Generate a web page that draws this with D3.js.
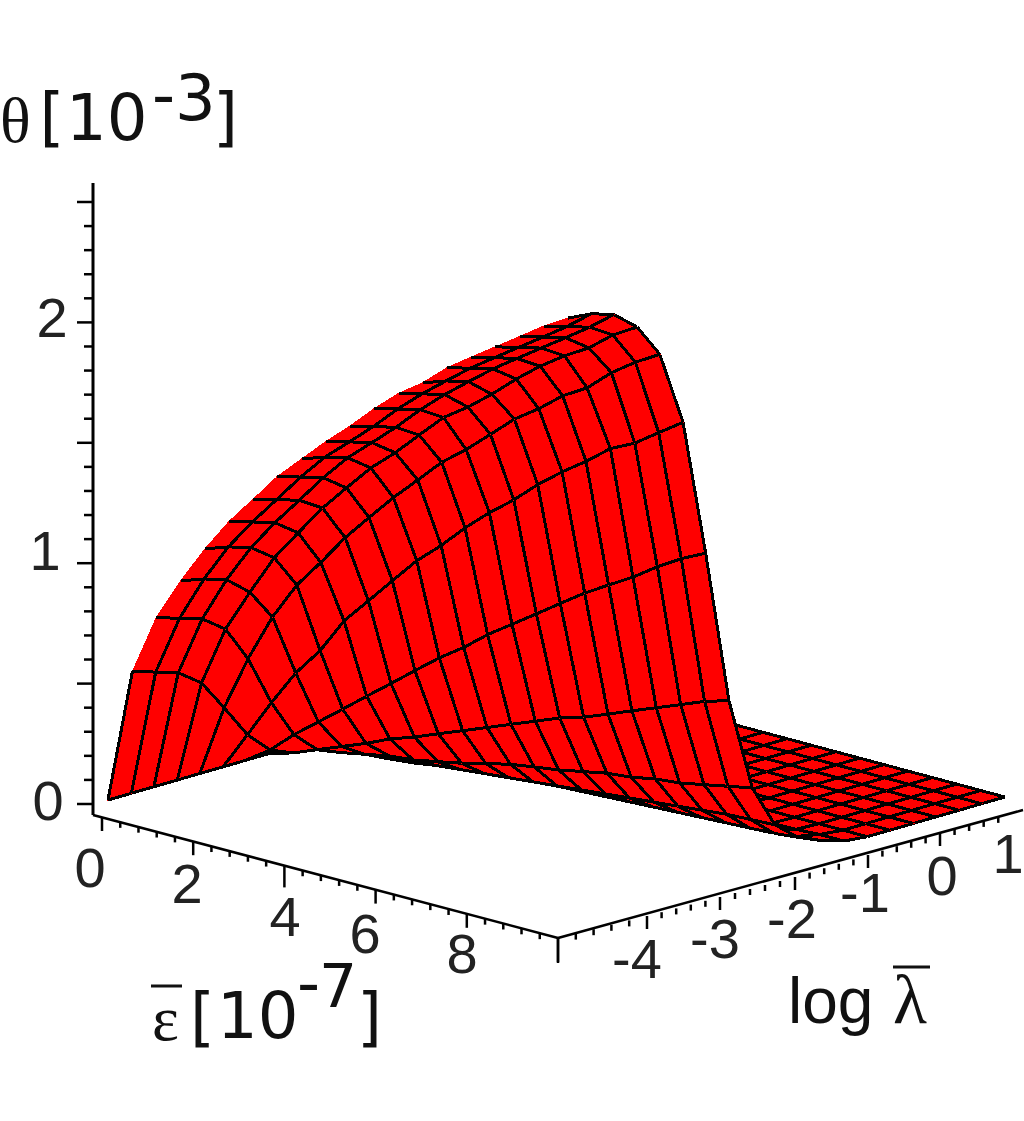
<!DOCTYPE html>
<html><head><meta charset="utf-8">
<script src="https://cdn.jsdelivr.net/npm/d3@7/dist/d3.min.js"></script>
<style>html,body{margin:0;padding:0;background:#fff}svg{display:block}</style>
</head><body><svg id="c" width="1024" height="1121"></svg>
<script>
const epsValues=[0,.53,1.05,1.58,2.11,2.63,3.16,3.68,4.21,4.74,5.26,5.79,6.32,6.84,7.37,7.89,8.42,8.95,9.47,10];
const logLambdaValues=[-5,-4.68,-4.37,-4.05,-3.74,-3.42,-3.11,-2.79,-2.47,-2.16,-1.84,-1.53,-1.21,-.89,-.58,-.26,.05,.37,.68,1];
// theta[10^-3]; one row per epsilon, one column per log lambda
const theta=[
[0,0,0,0,0,0,0,0,0,0,0,0,0,0,0,0,0,0,0,0],
[.56,.53,.50,.43,.30,.16,.07,.03,.015,0,0,0,0,0,0,0,0,0,0,0],
[.81,.78,.75,.68,.53,.32,.16,.07,.03,0,0,0,0,0,0,0,0,0,0,0],
[.99,.97,.94,.86,.73,.47,.24,.11,.05,.005,0,0,0,0,0,0,0,0,0,0],
[1.15,1.13,1.10,1.03,.89,.59,.32,.15,.07,.015,0,0,0,0,0,0,0,0,0,0],
[1.29,1.26,1.23,1.16,1.01,.74,.40,.195,.08,.03,0,0,0,0,0,0,0,0,0,0],
[1.41,1.38,1.35,1.29,1.14,.85,.48,.23,.10,.04,.005,0,0,0,0,0,0,0,0,0],
[1.53,1.50,1.47,1.40,1.25,.96,.56,.27,.12,.05,.01,0,0,0,0,0,0,0,0,0],
[1.63,1.61,1.58,1.51,1.36,1.07,.64,.31,.145,.06,.02,0,0,0,0,0,0,0,0,0],
[1.73,1.70,1.67,1.60,1.46,1.16,.71,.35,.17,.07,.025,0,0,0,0,0,0,0,0,0],
[1.82,1.79,1.76,1.70,1.56,1.26,.79,.39,.185,.08,.03,0,0,0,0,0,0,0,0,0],
[1.92,1.89,1.86,1.80,1.64,1.35,.86,.43,.20,.09,.035,.005,0,0,0,0,0,0,0,0],
[2.01,1.98,1.95,1.87,1.73,1.43,.93,.47,.22,.10,.04,.01,0,0,0,0,0,0,0,0],
[2.08,2.06,2.03,1.95,1.82,1.52,1.00,.50,.24,.11,.045,.01,0,0,0,0,0,0,0,0],
[2.17,2.14,2.11,2.04,1.89,1.60,1.07,.54,.25,.12,.05,.015,0,0,0,0,0,0,0,0],
[2.24,2.21,2.18,2.12,1.97,1.67,1.13,.58,.27,.13,.055,.02,.002,0,0,0,0,0,0,0],
[2.31,2.28,2.25,2.19,2.03,1.75,1.19,.62,.28,.14,.06,.02,.003,0,0,0,0,0,0,0],
[2.38,2.35,2.32,2.25,2.12,1.80,1.26,.66,.30,.15,.065,.03,.005,0,0,0,0,0,0,0],
[2.45,2.42,2.39,2.33,2.19,1.87,1.32,.70,.32,.155,.07,.03,.01,0,0,0,0,0,0,0],
[2.51,2.50,2.47,2.39,2.25,1.94,1.37,.73,.34,.16,.08,.04,.01,0,0,0,0,0,0,0]
];
const thetaTickLabels=[0,1,2];
const epsTickLabels=[0,2,4,6,8];
const lambdaTickLabels=[-4,-3,-2,-1,0,1];
const thetaTicks=d3.range(0,26).map(d=>d/10);
const epsTicks=d3.range(0,26).map(d=>d*0.4);
const lambdaTicks=d3.range(0,30).map(d=>-5+d*0.2);

const svg=d3.select("#c");
// axis scales
const yTheta=d3.scaleLinear().domain([0,2.5]).range([804,202]);
const epsX=d3.scaleLinear().domain([0,10]).range([102,558]);
const epsY=d3.scaleLinear().domain([0,10]).range([817,938]);
const lamDom=[-5,-4,-3,-2,-1,0,1.14];
const lamX=d3.scaleLinear().domain(lamDom).range([558,647,720,795,868,940,1023]);
const lamY=d3.scaleLinear().domain(lamDom).range([938,916,897,877,855,833,810]);
// surface projection (oblique view)
const pEx=d3.scaleLinear().domain([0,10]).range([0,460]);
const pEy=d3.scaleLinear().domain([0,10]).range([0,123]);
const pLx=d3.scaleLinear().domain([-5,1]).range([0,437]);
const pLy=d3.scaleLinear().domain([-5,1]).range([0,-126]);
const pT=d3.scaleLinear().domain([0,1]).range([0,-241]);
const proj=(i,j)=>[108+pEx(epsValues[i])+pLx(logLambdaValues[j]),
                   800+pEy(epsValues[i])+pLy(logLambdaValues[j])+pT(theta[i][j])];
const line=d3.line();
const surf=svg.append("g");
// painter's order: far corner (small eps, large lambda) first
for(let i=0;i<epsValues.length-1;i++){
  for(let j=logLambdaValues.length-2;j>=0;j--){
    const a=proj(i,j),b=proj(i,j+1),c=proj(i+1,j+1),d=proj(i+1,j);
    surf.append("path").attr("d",line([a,b,c,d])+"Z")
      .attr("fill","#ff0000").attr("stroke","#ff0000").attr("stroke-width",1)
      .attr("shape-rendering","crispEdges");
    const edges=[[a,b],[b,c],[d,c]];
    if(j>0||i===0) edges.push([a,d]);
    surf.append("path").attr("d",edges.map(e=>line(e)).join(""))
      .attr("fill","none").attr("stroke","#000").attr("stroke-width",3)
      .attr("shape-rendering","crispEdges");
  }
}
// axes
const ax=svg.append("g").attr("stroke","#000").attr("fill","none");
ax.append("line").attr("x1",93).attr("x2",93).attr("y1",183).attr("y2",815).attr("stroke-width",3);
thetaTicks.forEach(t=>{
  const major=Math.abs(t*2-Math.round(t*2))<1e-6;
  ax.append("line").attr("x1",major?77:84).attr("x2",93).attr("y1",yTheta(t)).attr("y2",yTheta(t)).attr("stroke-width",2.5);
});
ax.append("line").attr("x1",93).attr("y1",815).attr("x2",epsX(10)).attr("y2",epsY(10)).attr("stroke-width",2.5);
epsTicks.forEach(e=>{
  const major=Math.abs(e/2-Math.round(e/2))<1e-6;
  const len=e>9.9?24:(Math.abs(e-4)<1e-6?22:(major?14:6));
  ax.append("line").attr("x1",epsX(e)).attr("x2",epsX(e)).attr("y1",epsY(e)).attr("y2",epsY(e)+len).attr("stroke-width",2.5);
});
ax.append("line").attr("x1",lamX(-5)).attr("y1",lamY(-5)).attr("x2",lamX(1.14)).attr("y2",lamY(1.14)).attr("stroke-width",2.5);
lambdaTicks.filter(l=>l<0.85).forEach(l=>{
  const major=Math.abs(l-Math.round(l))<1e-6;
  const len=l<-4.9?25:(major?13:6);
  ax.append("line").attr("x1",lamX(l)).attr("x2",lamX(l)).attr("y1",lamY(l)).attr("y2",lamY(l)+len).attr("stroke-width",2.5);
});
// tick labels
const tl=(x,y,s)=>svg.append("text").attr("x",x).attr("y",y).attr("text-anchor","middle")
  .attr("font-family","'Liberation Sans'").attr("font-size",56).attr("fill","#222").text(s);
const thetaLabelPos={0:[48,820],1:[45,570],2:[52,337]};
thetaTickLabels.forEach(t=>tl(thetaLabelPos[t][0],thetaLabelPos[t][1],t));
const epsLabelPos={0:[90,887],2:[187,903],4:[285,936],6:[365,953],8:[462,973]};
epsTickLabels.forEach(e=>tl(epsLabelPos[e][0],epsLabelPos[e][1],e));
const lamLabelPos={"-4":[637,978],"-3":[715,958],"-2":[792,938],"-1":[865,912],"0":[942,895],"1":[1008,873]};
lambdaTickLabels.forEach(l=>tl(lamLabelPos[l][0],lamLabelPos[l][1],l));
// titles: one text element per axis title, pieces placed as tspans
function title(parts){
  const t=svg.append("text").attr("fill","#111");
  parts.forEach(p=>t.append("tspan").attr("x",p[0]).attr("y",p[1])
    .attr("font-family",p[3]||"'DejaVu Sans'").attr("font-size",p[4]||64).text(p[2]));
}
title([[0,142,"θ","'Liberation Serif'",64],[39.5,139,"["],[66,140,"10"],[152,117,"-"],[175,120,"3"],[213,139,"]"]]);
title([[152,1040,"ε","'Liberation Serif'",64],[190,1039,"["],[217,1038,"10"],[297,1005,"-"],[319,1007,"7","'DejaVu Sans'",60],[357,1039,"]"]]);
svg.append("line").attr("x1",151).attr("x2",182).attr("y1",986).attr("y2",986).attr("stroke","#111").attr("stroke-width",3);
title([[788,1023,"log","'Liberation Sans'",64],[893,1023,"λ","'Liberation Serif'",70]]);
svg.append("line").attr("x1",893).attr("x2",930).attr("y1",967).attr("y2",967).attr("stroke","#111").attr("stroke-width",3);
</script></body></html>
